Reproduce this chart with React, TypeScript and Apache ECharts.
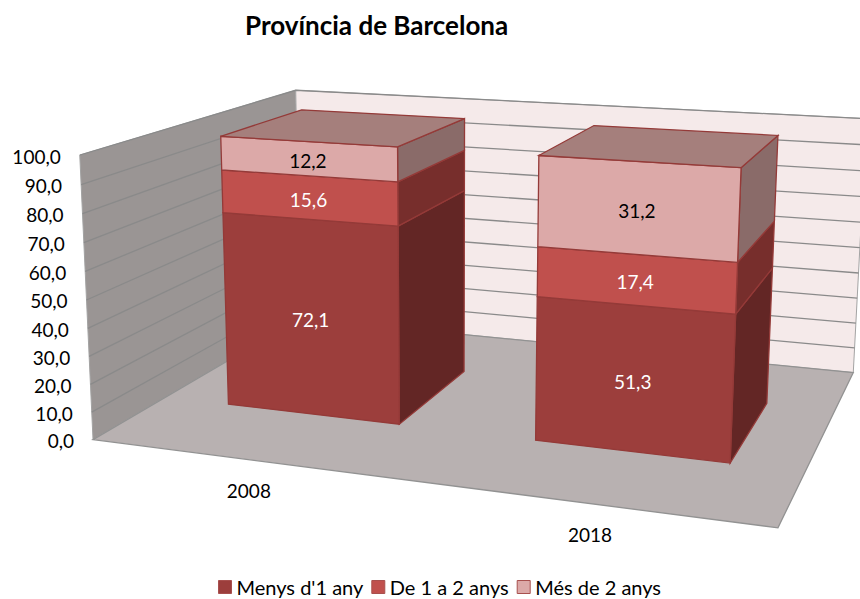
import React, { useEffect, useRef } from "react";
import * as echarts from "echarts";

const TITLE = "Província de Barcelona";
const CATEGORIES = ["2008", "2018"];
const Y_TICKS = [0, 10, 20, 30, 40, 50, 60, 70, 80, 90, 100];
const SERIES_NAMES = ["Menys d'1 any", "De 1 a 2 anys", "Més de 2 anys"];
const MENYS_1 = [72.1, 51.3];
const DE_1_A_2 = [15.6, 17.4];
const MES_DE_2 = [12.2, 31.2];
const SERIES_VALUES = [MENYS_1, DE_1_A_2, MES_DE_2];

const W = 860;
const H = 599;
const FONT = "Lato";

// Camera calibration: scene box coordinates (x across, y value share, z depth) -> pixels, weight
const CALIB: number[][] = [
  [0, 0, 0, 95, 439.5, 20], [1, 0, 0, 778, 528, 20], [0, 0, 1, 298, 319, 20], [1, 0, 1, 854, 372, 20],
  [0, 1, 0, 78, 155, 20], [0, 1, 1, 298, 90, 20], [1, 1, 1, 866, 119, 20],
  [0.11, 1, 0.303, 219.3, 136, 1], [0.397, 1, 0.303, 396.7, 147, 1], [0.4, 1, 0.705, 464.3, 118, 1], [0.11, 1, 0.705, 300, 110, 1],
  [0.61, 1, 0.303, 538, 155, 1], [0.895, 1, 0.303, 741.7, 168, 1], [0.895, 1, 0.705, 779, 135.7, 1], [0.61, 1, 0.705, 594, 125.7, 1],
  [0.11, 0, 0.303, 229, 404, 1], [0.397, 0, 0.303, 399, 424, 1], [0.4, 0, 0.705, 465, 371.7, 1],
  [0.61, 0, 0.303, 535, 440.7, 1], [0.895, 0, 0.303, 729.3, 463.3, 1], [0.895, 0, 0.705, 766.7, 404, 1],
];

function solveCamera(): number[] {
  const n = 11;
  const A: number[][] = Array.from({ length: n }, () => new Array(n + 1).fill(0));
  const add = (r: number[], b: number, wt: number) => {
    for (let i = 0; i < n; i++) {
      for (let j = 0; j < n; j++) A[i][j] += wt * r[i] * r[j];
      A[i][n] += wt * r[i] * b;
    }
  };
  CALIB.forEach(([X, Y, Z, u0, v0, wt]) => {
    const u = u0 / 1000, v = v0 / 1000;
    add([X, Y, Z, 1, 0, 0, 0, 0, -u * X, -u * Y, -u * Z], u, wt);
    add([0, 0, 0, 0, X, Y, Z, 1, -v * X, -v * Y, -v * Z], v, wt);
  });
  for (let c = 0; c < n; c++) {
    let p = c;
    for (let r = c + 1; r < n; r++) if (Math.abs(A[r][c]) > Math.abs(A[p][c])) p = r;
    [A[c], A[p]] = [A[p], A[c]];
    for (let r = 0; r < n; r++) {
      if (r === c) continue;
      const f = A[r][c] / A[c][c];
      for (let k = c; k <= n; k++) A[r][k] -= f * A[c][k];
    }
  }
  return A.map((row, i) => row[n] / row[i]);
}
const M = solveCamera();
function project(x: number, y: number, z: number): number[] {
  const w = M[8] * x + M[9] * y + M[10] * z + 1;
  return [
    (1000 * (M[0] * x + M[1] * y + M[2] * z + M[3])) / w,
    (1000 * (M[4] * x + M[5] * y + M[6] * z + M[7])) / w,
  ];
}

const BAR_HALF = 0.143;
const BAR_SHIFT = 0.0025;
const Z_FRONT = 0.303;
const Z_BACK = 0.705;

const FRONT = ["#9c3e3c", "#c0504d", "#dca9a8"];
const SIDE = ["#632625", "#772e2c", "#8a6b69"];
const LABEL = ["#ffffff", "#ffffff", "#000000"];
const TOP_FILL = "#a57f7c";
const BAR_STROKE = "#943a38";

const poly = (pts: number[][], fill: string, stroke: string, lineWidth = 1) => ({
  type: "polygon",
  shape: { points: pts },
  style: { fill, stroke, lineWidth },
  silent: true,
});
const txt = (x: number, y: number, text: string, fill = "#000000") => ({
  type: "text",
  x,
  y,
  silent: true,
  style: { text, fill, fontFamily: FONT, fontSize: 19, align: "center", verticalAlign: "middle" },
});

// normalised scene position through the chart's own scales
function sceneX(api: any, cat: number) {
  return api.coord([cat, 0])[0] / W;
}
function sceneY(api: any, v: number) {
  return 1 - api.coord([0, v])[1] / H;
}

const renderWalls = () => {
  const p = project;
  return {
    type: "group",
    children: [
      poly([p(0, 0, 0), p(0, 1, 0), p(0, 1, 1), p(0, 0, 1)], "#9a9594", "#a3a3a3"),
      poly([p(0, 0, 1), p(0, 1, 1), p(1, 1, 1), p(1, 0, 1)], "#f5eaea", "#a3a3a3"),
      poly([p(0, 0, 0), p(0, 0, 1), p(1, 0, 1), p(1, 0, 0)], "#b8b1b1", "#929292", 1.3),
    ],
  };
};

const renderGridline = (_: any, api: any) => {
  const y = sceneY(api, api.value(0));
  return {
    type: "polyline",
    silent: true,
    shape: { points: [project(0, y, 0), project(0, y, 1), project(1, y, 1)] },
    style: { stroke: "#8a8a8a", lineWidth: 1.3, fill: null },
  };
};

const renderTickLabel = (_: any, api: any) => {
  const v = api.value(0);
  const y = sceneY(api, v);
  const q = project(0, y, 0);
  return {
    type: "text",
    x: q[0] - 19,
    y: q[1] + 1,
    silent: true,
    style: {
      text: v.toFixed(1).replace(".", ","),
      fill: "#000000",
      fontFamily: FONT,
      fontSize: 19,
      align: "right",
      verticalAlign: "middle",
    },
  };
};

const renderCategoryLabel = (_: any, api: any) => {
  const cat = api.value(0);
  const q = project(sceneX(api, cat), 0, 0);
  return txt(q[0] + 2, q[1] + 31, CATEGORIES[cat]);
};

const makeBarRenderer = (s: number) => (_: any, api: any) => {
  const cat = api.value(0);
  const start = api.value(1);
  const end = api.value(2);
  const xc = sceneX(api, cat) + BAR_SHIFT;
  const x0 = xc - BAR_HALF;
  const x1 = xc + BAR_HALF;
  const y0 = sceneY(api, start);
  const y1 = sceneY(api, end);
  const p = project;
  const children: any[] = [
    poly([p(x1, y0, Z_FRONT), p(x1, y1, Z_FRONT), p(x1, y1, Z_BACK), p(x1, y0, Z_BACK)], SIDE[s], BAR_STROKE, 1.3),
    poly([p(x0, y0, Z_FRONT), p(x0, y1, Z_FRONT), p(x1, y1, Z_FRONT), p(x1, y0, Z_FRONT)], FRONT[s], BAR_STROKE, 1.3),
  ];
  if (s === SERIES_VALUES.length - 1) {
    children.push(poly([p(x0, y1, Z_FRONT), p(x0, y1, Z_BACK), p(x1, y1, Z_BACK), p(x1, y1, Z_FRONT)], TOP_FILL, BAR_STROKE, 1.3));
  }
  const c = p(xc, (y0 + y1) / 2, Z_FRONT);
  children.push(txt(c[0], c[1] + 2, (end - start).toFixed(1).replace(".", ","), LABEL[s]));
  return { type: "group", children };
};

function buildStack(s: number) {
  return CATEGORIES.map((_, i) => {
    let start = 0;
    for (let k = 0; k < s; k++) start += SERIES_VALUES[k][i];
    return [i, start, start + SERIES_VALUES[s][i]];
  });
}

export default function App() {
  const ref = useRef<HTMLDivElement>(null);
  useEffect(() => {
    const chart = echarts.init(ref.current!, undefined, { renderer: "svg" });
    chart.setOption({
      animation: false,
      backgroundColor: "#ffffff",
      title: {
        text: TITLE,
        left: 240,
        top: 7,
        textStyle: { fontFamily: FONT, fontSize: 26, fontWeight: "bold", color: "#000000" },
      },
      grid: { left: 0, right: 0, top: 0, bottom: 0 },
      xAxis: { type: "category", data: CATEGORIES, show: false },
      yAxis: { type: "value", min: 0, max: 100, interval: 10, show: false },
      legend: {
        data: SERIES_NAMES.map((name, i) => ({
          name,
          icon: "rect",
          itemStyle: { color: FRONT[i], borderColor: "#a8504e", borderWidth: 1 },
        })),
        left: 213,
        top: 572,
        itemWidth: 13,
        itemHeight: 13,
        itemGap: 8,
        textStyle: { fontFamily: FONT, fontSize: 20, color: "#000000" },
      },
      series: [
        { type: "custom", name: "walls", renderItem: renderWalls, data: [[0]], silent: true, z: 1 },
        { type: "custom", name: "gridlines", renderItem: renderGridline, data: Y_TICKS.slice(1).map((t) => [t]), silent: true, z: 2 },
        { type: "custom", name: "ticks", renderItem: renderTickLabel, data: Y_TICKS.map((t) => [t]), silent: true, z: 3 },
        { type: "custom", name: "categories", renderItem: renderCategoryLabel, data: CATEGORIES.map((_, i) => [i]), silent: true, z: 3 },
        ...SERIES_NAMES.map((name, s) => ({
          type: "custom",
          name,
          renderItem: makeBarRenderer(s),
          data: buildStack(s),
          itemStyle: { color: FRONT[s] },
          silent: true,
          z: 4 + s,
        })),
      ],
    });
    return () => chart.dispose();
  }, []);
  return <div ref={ref} style={{ position: "absolute", left: 0, top: 0, width: W, height: H }} />;
}
